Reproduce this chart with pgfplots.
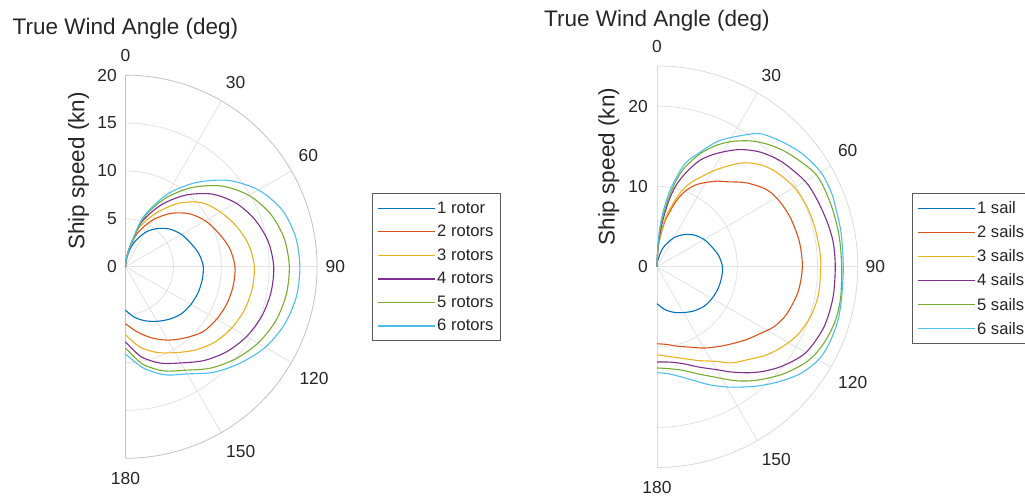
\documentclass[border=0pt]{standalone}
\usepackage{pgfplots}
\pgfplotsset{compat=1.18}
\usepackage{pgfplotstable}
\usepackage{fontspec}
\setmainfont{Liberation Sans}
\definecolor{c1}{HTML}{0072BD}
\definecolor{c2}{HTML}{D95319}
\definecolor{c3}{HTML}{EDB120}
\definecolor{c4}{HTML}{7E2F8E}
\definecolor{c5}{HTML}{77AC30}
\definecolor{c6}{HTML}{4DBEEE}
\definecolor{txt}{HTML}{262626}
\definecolor{gridc}{HTML}{E2E2E2}
\definecolor{edgeL}{HTML}{C2C2C2}
\definecolor{edgeR}{HTML}{DADADA}
\definecolor{legedge}{HTML}{5A5A5A}

% ---------- left: rotors (theta in deg, ship speed in kn) ----------
\pgfplotstableread{
t r
0 0
5 0.49
10 1.14
15 1.95
20 2.76
30 4.14
40 5.20
50 6.09
60 6.74
70 7.23
80 7.78
90 8.12
100 8.12
110 8.04
120 7.88
130 7.63
140 7.15
150 6.58
160 6.01
170 5.36
180 4.55
}\Lone
\pgfplotstableread{
t r
0 0
5 0.62
10 1.46
15 2.54
20 3.80
30 5.60
40 7.25
50 8.62
60 9.60
70 10.32
80 11.04
90 11.43
100 11.42
110 11.27
120 10.98
130 10.56
140 9.70
150 8.85
160 7.90
170 6.90
180 5.95
}\Ltwo
\pgfplotstableread{
t r
0 0
5 0.65
10 1.56
15 2.78
20 4.50
30 6.50
40 8.65
50 10.40
60 11.43
70 12.32
80 13.07
90 13.45
100 13.42
110 13.21
120 12.80
130 12.21
140 11.35
150 10.36
160 9.52
170 8.50
180 7.10
}\Lthree
\pgfplotstableread{
t r
0 0
5 0.65
10 1.61
15 2.85
20 5.00
30 7.45
40 9.75
50 11.79
60 13.30
70 14.37
80 15.13
90 15.47
100 15.42
110 15.13
120 14.59
130 13.80
140 12.78
150 11.60
160 10.71
170 9.56
180 7.86
}\Lfour
\pgfplotstableread{
t r
0 0
5 0.62
10 1.57
15 2.88
20 5.40
30 8.22
40 10.78
50 13.10
60 14.88
70 16.11
80 16.83
90 17.10
100 17.03
110 16.66
120 15.97
130 14.98
140 13.82
150 12.48
160 11.56
170 10.33
180 8.49
}\Lfive
\pgfplotstableread{
t r
0 0
5 0.55
10 1.46
15 2.90
20 5.60
30 8.75
40 11.46
50 14.01
60 16.02
70 17.38
80 18.02
90 18.20
100 18.11
110 17.65
120 16.84
130 15.65
140 14.38
150 12.92
160 12.01
170 10.74
180 9.10
}\Lsix

% ---------- right: sails ----------
\pgfplotstableread{
t r
0 0
5 0.49
10 1.14
15 1.95
20 2.76
30 4.14
40 5.22
50 6.11
60 6.77
70 7.26
80 7.81
90 8.15
100 8.15
110 8.07
120 7.91
130 7.66
140 7.18
150 6.60
160 6.04
170 5.40
180 4.60
}\Rone
\pgfplotstableread{
t r
0 0
3 2.0
6 3.7
10 5.8
13 7.0
16 8.4
20 9.9
25 11.2
30 12.1
35 13.0
40 13.8
47 15.3
55 16.7
62 17.3
70 17.7
80 18.0
90 18.1
100 17.85
110 17.2
117 16.4
123 15.3
129 14.4
135 13.5
142 12.6
150 11.7
158 10.8
166 10.2
173 9.75
180 9.6
}\Rtwo
\pgfplotstableread{
t r
0 0
3 2.2
7 4.4
10 6.2
14 8.0
18 9.9
22 11.3
26 12.4
30 13.7
35 15.3
40 16.9
46 18.2
52 19.0
60 19.75
68 20.1
76 20.25
84 20.35
90 20.4
100 20.4
108 20.1
115 19.55
120 18.9
125 18.15
130 17.3
135 16.3
142 15.2
148 13.9
156 12.8
164 11.9
172 11.3
180 10.96
}\Rthree
\pgfplotstableread{
t r
0 0
3 2.6
6.6 5.4
10 8.2
13 10.3
17 12.2
22 14.3
28 16.0
35 17.8
42 19.2
50 20.3
60 21.3
67 21.6
75 21.9
82 22.15
90 22.2
100 22.25
110 22.1
120 21.4
128 20.0
134 18.7
139 17.5
145 16.0
150 14.8
157 13.6
165 12.5
172 12.0
180 11.87
}\Rfour
\pgfplotstableread{
t r
0 0
3 2.9
6 5.8
10 9.0
13 11.3
16 13.0
21 15.1
26 16.8
31 18.2
37 19.6
43 20.7
50 21.7
60 22.9
70 23.0
80 23.0
90 23.0
100 23.2
107 23.2
113 22.95
118 22.6
123 22.0
130 20.7
136 19.4
141 18.3
146 17.1
152 15.6
159 14.3
166 13.3
173 12.8
180 12.61
}\Rfive
\pgfplotstableread{
t r
0 0
3 3.5
6 6.6
10 9.9
15 13.2
20 15.0
26 17.4
33 19.5
38 21.0
45 22.0
52 22.9
60 23.55
67 23.6
73 23.4
80 23.3
90 23.2
99 23.3
106 23.5
112 23.5
117 23.4
121 23.1
126 22.4
130 21.6
135 20.5
140 19.4
145 18.3
150 17.3
156 16.1
162 14.9
168 14.0
174 13.4
180 13.2
}\Rsix

\tikzset{
  tlab/.style={font=\fontsize{17.4pt}{20pt}\selectfont, text=txt, inner sep=0pt},
  blab/.style={font=\fontsize{22.5pt}{26pt}\selectfont, text=txt, inner sep=0pt},
}
\pgfplotsset{
  mylegend/.style={
    legend cell align=left,
    legend style={anchor=north west, draw=legedge, line width=0.8pt, fill=white,
      font=\fontsize{16.6pt}{19pt}\selectfont, text=txt,
      inner xsep=4.5pt, inner ysep=2.9pt, row sep=0pt,
      nodes={inner xsep=2pt, inner ysep=5.25pt}},
    legend image code/.code={\draw[##1, line width=1.3pt] (0pt,0pt) -- (57pt,0pt);},
  },
}

\begin{document}
\begin{tikzpicture}
\useasboundingbox (0,0) rectangle (1025pt,497pt);

% ================= LEFT =================
\begin{axis}[
  at={(240.46pt,230.3pt)}, anchor=center,
  x=9.58pt, y=9.58pt,
  xmin=-13, xmax=37, ymin=-25, ymax=25,
  hide axis, clip=false,
  mylegend,
  legend style={at={(0.7746,0.6532)}},
]
% grid
\addplot[gridc, line width=0.8pt, domain=0:180, samples=91, forget plot] ({5*sin(x)},{5*cos(x)});
\addplot[gridc, line width=0.8pt, domain=0:180, samples=91, forget plot] ({10*sin(x)},{10*cos(x)});
\addplot[gridc, line width=0.8pt, domain=0:180, samples=91, forget plot] ({15*sin(x)},{15*cos(x)});
\addplot[gridc, line width=0.8pt, domain=0:20, samples=2, forget plot] ({x*sin(30)},{x*cos(30)});
\addplot[gridc, line width=0.8pt, domain=0:20, samples=2, forget plot] ({x*sin(60)},{x*cos(60)});
\addplot[gridc, line width=0.8pt, domain=0:20, samples=2, forget plot] ({x*sin(90)},{x*cos(90)});
\addplot[gridc, line width=0.8pt, domain=0:20, samples=2, forget plot] ({x*sin(120)},{x*cos(120)});
\addplot[gridc, line width=0.8pt, domain=0:20, samples=2, forget plot] ({x*sin(150)},{x*cos(150)});
\addplot[edgeL, line width=0.8pt, domain=0:180, samples=121, forget plot] ({20*sin(x)},{20*cos(x)});
\addplot[edgeL, line width=0.8pt, forget plot] coordinates {(0,20) (0,-20)};
% data
\addplot[c1, line width=1.1pt, smooth] table[x expr={\thisrow{r}*sin(\thisrow{t})}, y expr={\thisrow{r}*cos(\thisrow{t})}] {\Lone};
\addlegendentry{1 rotor}
\addplot[c2, line width=1.1pt, smooth] table[x expr={\thisrow{r}*sin(\thisrow{t})}, y expr={\thisrow{r}*cos(\thisrow{t})}] {\Ltwo};
\addlegendentry{2 rotors}
\addplot[c3, line width=1.1pt, smooth] table[x expr={\thisrow{r}*sin(\thisrow{t})}, y expr={\thisrow{r}*cos(\thisrow{t})}] {\Lthree};
\addlegendentry{3 rotors}
\addplot[c4, line width=1.1pt, smooth] table[x expr={\thisrow{r}*sin(\thisrow{t})}, y expr={\thisrow{r}*cos(\thisrow{t})}] {\Lfour};
\addlegendentry{4 rotors}
\addplot[c5, line width=1.1pt, smooth] table[x expr={\thisrow{r}*sin(\thisrow{t})}, y expr={\thisrow{r}*cos(\thisrow{t})}] {\Lfive};
\addlegendentry{5 rotors}
\addplot[c6, line width=1.1pt, smooth] table[x expr={\thisrow{r}*sin(\thisrow{t})}, y expr={\thisrow{r}*cos(\thisrow{t})}] {\Lsix};
\addlegendentry{6 rotors}
% labels
\node[tlab] at (axis cs:0,22.0) {0};
\node[tlab] at (axis cs:11.5,19.21) {30};
\node[tlab] at (axis cs:19.08,11.59) {60};
\node[tlab] at (axis cs:21.9,0) {90};
\node[tlab] at (axis cs:19.68,-11.65) {120};
\node[tlab] at (axis cs:12.03,-19.31) {150};
\node[tlab] at (axis cs:0,-22.09) {180};
\node[tlab, anchor=east] at (axis cs:-0.9,20) {20};
\node[tlab, anchor=east] at (axis cs:-0.9,15) {15};
\node[tlab, anchor=east] at (axis cs:-0.9,10) {10};
\node[tlab, anchor=east] at (axis cs:-0.9,5) {5};
\node[tlab, anchor=east] at (axis cs:-0.9,0) {0};
\node[blab, anchor=base] at (axis cs:0,24.19) {True Wind Angle (deg)};
\node[blab, rotate=90] at (axis cs:-4.91,9.99) {Ship speed (kn)};
\end{axis}

% ================= RIGHT =================
\begin{axis}[
  at={(737.3pt,230.3pt)}, anchor=center,
  x=8.03pt, y=8.03pt,
  xmin=-15, xmax=35, ymin=-28, ymax=28,
  hide axis, clip=false,
  mylegend,
  legend style={at={(0.935,0.6632)}},
]
\addplot[gridc, line width=0.8pt, domain=0:180, samples=91, forget plot] ({10*sin(x)},{10*cos(x)});
\addplot[gridc, line width=0.8pt, domain=0:180, samples=91, forget plot] ({20*sin(x)},{20*cos(x)});
\addplot[gridc, line width=0.8pt, domain=0:25, samples=2, forget plot] ({x*sin(30)},{x*cos(30)});
\addplot[gridc, line width=0.8pt, domain=0:25, samples=2, forget plot] ({x*sin(60)},{x*cos(60)});
\addplot[gridc, line width=0.8pt, domain=0:25, samples=2, forget plot] ({x*sin(90)},{x*cos(90)});
\addplot[gridc, line width=0.8pt, domain=0:25, samples=2, forget plot] ({x*sin(120)},{x*cos(120)});
\addplot[gridc, line width=0.8pt, domain=0:25, samples=2, forget plot] ({x*sin(150)},{x*cos(150)});
\addplot[edgeR, line width=0.8pt, domain=0:180, samples=121, forget plot] ({25*sin(x)},{25*cos(x)});
\addplot[edgeR, line width=0.8pt, forget plot] coordinates {(0,25) (0,-25)};
\addplot[c1, line width=1.1pt, smooth] table[x expr={\thisrow{r}*sin(\thisrow{t})}, y expr={\thisrow{r}*cos(\thisrow{t})}] {\Rone};
\addlegendentry{1 sail}
\addplot[c2, line width=1.1pt, smooth] table[x expr={\thisrow{r}*sin(\thisrow{t})}, y expr={\thisrow{r}*cos(\thisrow{t})}] {\Rtwo};
\addlegendentry{2 sails}
\addplot[c3, line width=1.1pt, smooth] table[x expr={\thisrow{r}*sin(\thisrow{t})}, y expr={\thisrow{r}*cos(\thisrow{t})}] {\Rthree};
\addlegendentry{3 sails}
\addplot[c4, line width=1.1pt, smooth] table[x expr={\thisrow{r}*sin(\thisrow{t})}, y expr={\thisrow{r}*cos(\thisrow{t})}] {\Rfour};
\addlegendentry{4 sails}
\addplot[c5, line width=1.1pt, smooth] table[x expr={\thisrow{r}*sin(\thisrow{t})}, y expr={\thisrow{r}*cos(\thisrow{t})}] {\Rfive};
\addlegendentry{5 sails}
\addplot[c6, line width=1.1pt, smooth] table[x expr={\thisrow{r}*sin(\thisrow{t})}, y expr={\thisrow{r}*cos(\thisrow{t})}] {\Rsix};
\addlegendentry{6 sails}
\node[tlab] at (axis cs:0,27.4) {0};
\node[tlab] at (axis cs:14.23,23.87) {30};
\node[tlab] at (axis cs:23.75,14.41) {60};
\node[tlab] at (axis cs:27.19,0) {90};
\node[tlab] at (axis cs:24.37,-14.45) {120};
\node[tlab] at (axis cs:14.86,-23.99) {150};
\node[tlab] at (axis cs:0,-27.47) {180};
\node[tlab, anchor=east] at (axis cs:-1.12,20) {20};
\node[tlab, anchor=east] at (axis cs:-1.12,10) {10};
\node[tlab, anchor=east] at (axis cs:-1.12,0) {0};
\node[blab, anchor=base] at (axis cs:0,29.91) {True Wind Angle (deg)};
\node[blab, rotate=90] at (axis cs:-6.01,12.45) {Ship speed (kn)};
\end{axis}
\end{tikzpicture}
\end{document}
